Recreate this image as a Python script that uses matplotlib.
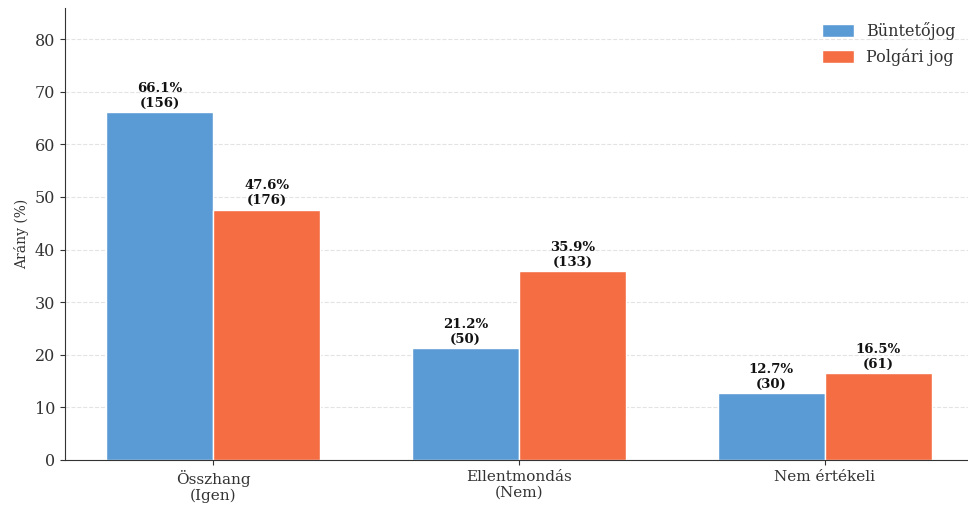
import matplotlib
matplotlib.use("Agg")
import matplotlib.pyplot as plt
import numpy as np

plt.rcParams['font.family'] = ['DejaVu Serif']

categories = ["Összhang\n(Igen)", "Ellentmondás\n(Nem)", "Nem értékeli"]
series_names = ["Büntetőjog", "Polgári jog"]
bunteto_pct = [66.1, 21.2, 12.7]
bunteto_n = [156, 50, 30]
polgari_pct = [47.6, 35.9, 16.5]
polgari_n = [176, 133, 61]

colors = ["#5B9BD5", "#F46D43"]

fig = plt.figure(figsize=(9.68, 5.08), dpi=100)
ax = fig.add_axes([65/968, 1 - 460/508, (973 - 65)/968, (460 - 8)/508])

x = np.arange(len(categories))
w = 0.35
b1 = ax.bar(x - w/2, bunteto_pct, w, color=colors[0], edgecolor="white", linewidth=1, label=series_names[0])
b2 = ax.bar(x + w/2, polgari_pct, w, color=colors[1], edgecolor="white", linewidth=1, label=series_names[1])

for bars, pcts, ns in [(b1, bunteto_pct, bunteto_n), (b2, polgari_pct, polgari_n)]:
    for r, p, n in zip(bars, pcts, ns):
        ax.text(r.get_x() + r.get_width()/2, r.get_height() + 0.5, f"{p}%\n({n})",
                ha="center", va="bottom", fontsize=9.5, fontweight="bold", linespacing=1.15,
                color="#111111")

ax.set_xticks(x)
ax.set_xticklabels(categories, fontsize=11, linespacing=1.15, color="#333333")
ax.set_ylim(0, max(bunteto_pct) * 1.3)
ax.set_yticks(np.arange(0, 90, 10))
ax.tick_params(axis="y", labelsize=11.5, labelcolor="#333333")
ax.tick_params(colors="#333333")
ax.set_ylabel("Arány (%)", fontsize=10, color="#333333")
ax.spines["top"].set_visible(False)
ax.spines["right"].set_visible(False)
ax.spines["left"].set_color("#333333")
ax.spines["bottom"].set_color("#333333")
ax.grid(axis="y", linestyle="--", alpha=0.35)
ax.set_axisbelow(True)
leg = ax.legend(frameon=False, fontsize=11.5, loc="upper right", bbox_to_anchor=(0.997, 1.0),
                labelspacing=0.5, handleheight=0.9)
for t in leg.get_texts():
    t.set_color("#333333")

fig.savefig("out.png", dpi=100)
